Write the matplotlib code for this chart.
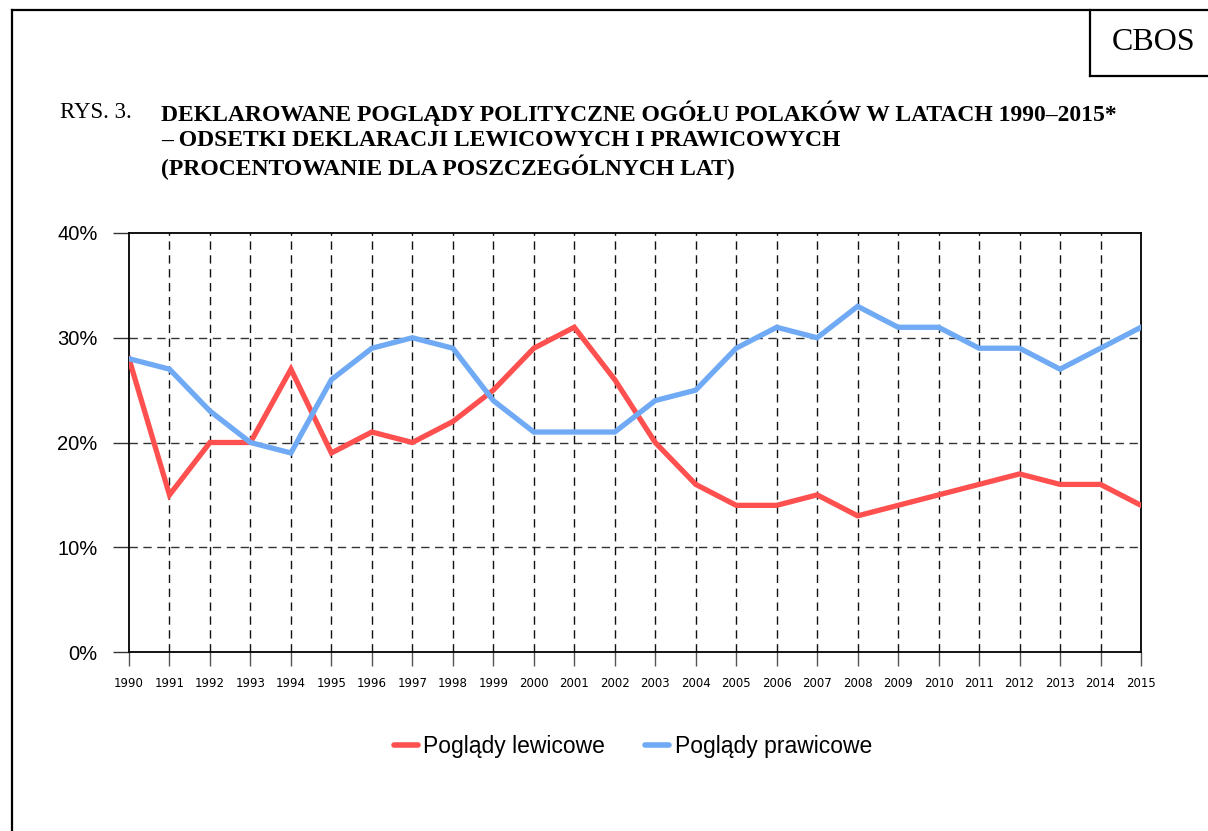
import numpy as np
import matplotlib
matplotlib.use('Agg')
import matplotlib.pyplot as plt
from matplotlib.lines import Line2D

# dane
years = list(range(1990, 2016))
lewicowe = [28, 15, 20, 20, 27, 19, 21, 20, 22, 25, 29, 31, 26,
            20, 16, 14, 14, 15, 13, 14, 15, 16, 17, 16, 16, 14]
prawicowe = [28, 27, 23, 20, 19, 26, 29, 30, 29, 24, 21, 21, 21,
             24, 25, 29, 31, 30, 33, 31, 31, 29, 29, 27, 29, 31]
y_ticks = [0, 10, 20, 30, 40]
series_names = ['Poglądy lewicowe', 'Poglądy prawicowe']

RED = '#ff5050'
BLUE = '#70aaf5'

fig = plt.figure(figsize=(12.08, 8.31), dpi=100)
ax = fig.add_axes([129 / 1208, 1 - 652 / 831, (1141 - 129) / 1208, (652 - 233) / 831])

ax.plot(years, lewicowe, color=RED, lw=3.8, solid_joinstyle='miter', zorder=3)
ax.plot(years, prawicowe, color=BLUE, lw=3.8, solid_joinstyle='miter', zorder=3)

ax.set_xlim(years[0], years[-1])
ax.set_ylim(0, 40)
ax.set_xticks(years)
ax.set_xticklabels([str(y) for y in years], fontsize=8.5, family='DejaVu Sans')
ax.set_yticks(y_ticks)
ax.set_yticklabels([f'{v}%' for v in y_ticks], fontsize=14.5, family='Liberation Sans')

# siatka
for y in y_ticks[1:-1]:
    ax.axhline(y, color='#333333', lw=1.0, ls=(0, (6, 4)), zorder=1)
for x in years[1:-1]:
    ax.axvline(x, color='#111111', lw=1.0, ls=(0, (6, 4)), zorder=1)

for s in ['left', 'bottom', 'top', 'right']:
    ax.spines[s].set_color('black')
    ax.spines[s].set_linewidth(1.3)
ax.tick_params(axis='y', length=11.5, width=1.0, color='#333333', pad=11)
ax.tick_params(axis='x', length=10, width=1.0, color='#555555', pad=8)

# legenda
handles = [Line2D([], [], color=RED, lw=4, solid_capstyle='round'),
           Line2D([], [], color=BLUE, lw=4, solid_capstyle='round')]
fig.legend(handles, series_names, loc='center', bbox_to_anchor=(633 / 1208, 1 - 747 / 831),
           ncol=2, frameon=False, handlelength=1.05, handletextpad=0.25, columnspacing=1.75,
           prop={'family': 'Liberation Sans', 'size': 16.5})

# tytul
fig.text(60 / 1208, 1 - 113 / 831, 'RYS. 3.', family='Liberation Serif', fontsize=16.5,
         va='center', ha='left')
tytul = ['DEKLAROWANE POGLĄDY POLITYCZNE OGÓŁU POLAKÓW W LATACH 1990–2015*',
         '– ODSETKI DEKLARACJI LEWICOWYCH I PRAWICOWYCH',
         '(PROCENTOWANIE DLA POSZCZEGÓLNYCH LAT)']
for i, t in enumerate(tytul):
    fig.text(161 / 1208, 1 - (113 + 27 * i) / 831, t, family='Liberation Serif',
             fontsize=17, weight='bold', va='center', ha='left')

fig.text(1154 / 1208, 1 - 42 / 831, 'CBOS', family='Liberation Serif', fontsize=23,
         va='center', ha='center')

# ramka
fw, fh = 1208, 831
fig.add_artist(Line2D([12 / fw, 12 / fw], [0, 1 - 10 / fh], color='black', lw=1.6,
                      transform=fig.transFigure))
fig.add_artist(Line2D([12 / fw, 1], [1 - 10 / fh, 1 - 10 / fh], color='black', lw=1.6,
                      transform=fig.transFigure))
fig.add_artist(Line2D([1090 / fw, 1090 / fw], [1 - 10 / fh, 1 - 76 / fh], color='black', lw=1.6,
                      transform=fig.transFigure))
fig.add_artist(Line2D([1090 / fw, 1], [1 - 76 / fh, 1 - 76 / fh], color='black', lw=1.6,
                      transform=fig.transFigure))

fig.savefig('out.png', dpi=100)
